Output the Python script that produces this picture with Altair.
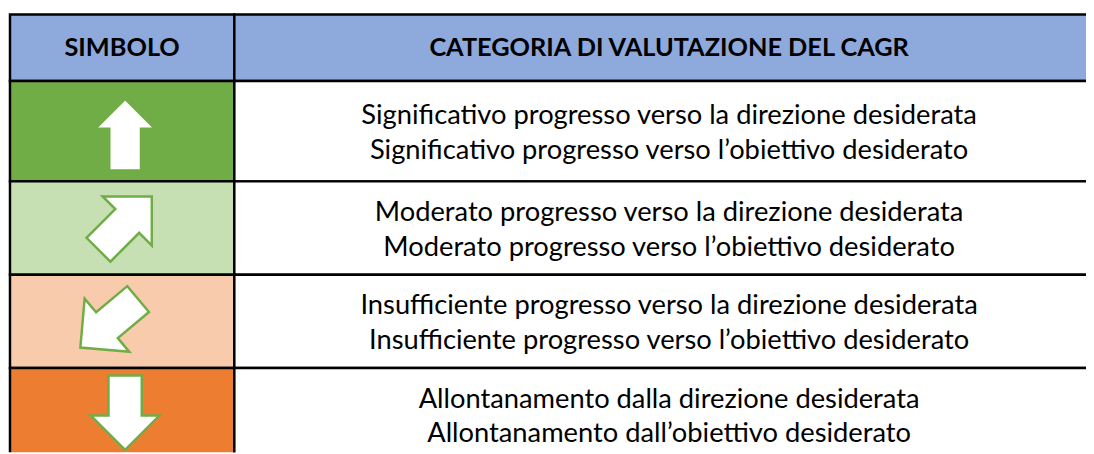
import altair as alt
import pandas as pd

# ---------------- data ----------------
header_labels = ["SIMBOLO", "CATEGORIA DI VALUTAZIONE DEL CAGR"]
symbols = ["up", "up-right", "down-left", "down"]
line1 = [
    "Significativo progresso verso la direzione desiderata",
    "Moderato progresso verso la direzione desiderata",
    "Insufficiente progresso verso la direzione desiderata",
    "Allontanamento dalla direzione desiderata",
]
line2 = [
    "Significativo progresso verso l\u2019obiettivo desiderato",
    "Moderato progresso verso l\u2019obiettivo desiderato",
    "Insufficiente progresso verso l\u2019obiettivo desiderato",
    "Allontanamento dall\u2019obiettivo desiderato",
]

# ---------------- styles ----------------
HEADER_COLOR = "#8EA9DB"
ROW_COLORS = ["#70AD47", "#C6E0B4", "#F8CBAD", "#ED7D31"]
ARROW_STROKE = "#70AD47"
FONT = "Lato"

PATH_A = "M0,-1 L0.833,-0.167 L0.444,-0.167 L0.444,1 L-0.444,1 L-0.444,-0.167 L-0.833,-0.167 Z"
PATH_B = "M0,-1 L0.921,-0.079 L0.447,-0.079 L0.447,1 L-0.447,1 L-0.447,-0.079 L-0.921,-0.079 Z"
ARROW_STYLE = {
    "up":        dict(path=PATH_A, angle=0,   size=72 ** 2, nx=3,   ny=3.5),
    "up-right":  dict(path=PATH_B, angle=45,  size=76 ** 2, nx=3,   ny=-5),
    "down-left": dict(path=PATH_B, angle=230, size=76 ** 2, nx=-13, ny=2),
    "down":      dict(path=PATH_B, angle=180, size=75 ** 2, nx=3,   ny=-2),
}

# ---------------- layout ----------------
W, H = 1086, 446
COL = [2, 228, 1104]
ROW = [5, 72, 173, 267, 361, 455]

cells = []
labels = []
for j, lab in enumerate(header_labels):
    cells.append(dict(x0=COL[j], x1=COL[j + 1], y0=ROW[0], y1=ROW[1], fill=HEADER_COLOR))
    labels.append(dict(x=(COL[j] + COL[j + 1]) / 2, y=(ROW[0] + ROW[1]) / 2, text=lab, kind="header"))
arrows = []
for i, sym in enumerate(symbols):
    y0, y1 = ROW[i + 1], ROW[i + 2]
    cells.append(dict(x0=COL[0], x1=COL[1], y0=y0, y1=y1, fill=ROW_COLORS[i]))
    cells.append(dict(x0=COL[1], x1=COL[2], y0=y0, y1=y1, fill="#FFFFFF"))
    labels.append(dict(x=(COL[1] + COL[2]) / 2, y=(y0 + y1) / 2,
                       text=line1[i] + "\n" + line2[i], kind="body"))
    st = ARROW_STYLE[sym]
    arrows.append(dict(x=(COL[0] + COL[1]) / 2 + st["nx"], y=(y0 + y1) / 2 + st["ny"],
                       path=st["path"], angle=st["angle"], size=st["size"], sym=sym))

cells_df = pd.DataFrame(cells)
labels_df = pd.DataFrame(labels)
arrows_df = pd.DataFrame(arrows)

xs = alt.Scale(domain=[0, W], nice=False, zero=False)
ys = alt.Scale(domain=[0, H], nice=False, zero=False, reverse=True)

rects = alt.Chart(cells_df).mark_rect(stroke="black", strokeWidth=2.5, clip=True).encode(
    x=alt.X("x0:Q", scale=xs, axis=None),
    x2="x1:Q",
    y=alt.Y("y0:Q", scale=ys, axis=None),
    y2="y1:Q",
    fill=alt.Fill("fill:N", scale=None),
)

header_text = alt.Chart(labels_df[labels_df.kind == "header"]).mark_text(
    font=FONT, fontSize=25.5, fontWeight="bold", color="black", align="center", baseline="middle"
).encode(x=alt.X("x:Q", scale=xs, axis=None), y=alt.Y("y:Q", scale=ys, axis=None), text="text:N")

body_text = alt.Chart(labels_df[labels_df.kind == "body"]).mark_text(
    font=FONT, fontSize=27.5, color="black", align="center", baseline="middle",
    lineBreak="\n", lineHeight=35, dy=-15,
).encode(x=alt.X("x:Q", scale=xs, axis=None), y=alt.Y("y:Q", scale=ys, axis=None), text="text:N")

arrow_marks = alt.Chart(arrows_df).mark_point(
    filled=True, fill="white", stroke=ARROW_STROKE, strokeWidth=2.5, opacity=1, clip=True
).encode(
    x=alt.X("x:Q", scale=xs, axis=None),
    y=alt.Y("y:Q", scale=ys, axis=None),
    shape=alt.Shape("path:N", scale=None),
    angle=alt.Angle("angle:Q", scale=None),
    size=alt.Size("size:Q", scale=None),
)

chart = alt.layer(rects, header_text, body_text, arrow_marks).properties(
    width=W, height=H, padding=0, autosize=alt.AutoSizeParams(type="none"), background="white"
).configure_view(stroke=None)

chart.save("out.html", embed_options={"renderer": "svg", "actions": False})
